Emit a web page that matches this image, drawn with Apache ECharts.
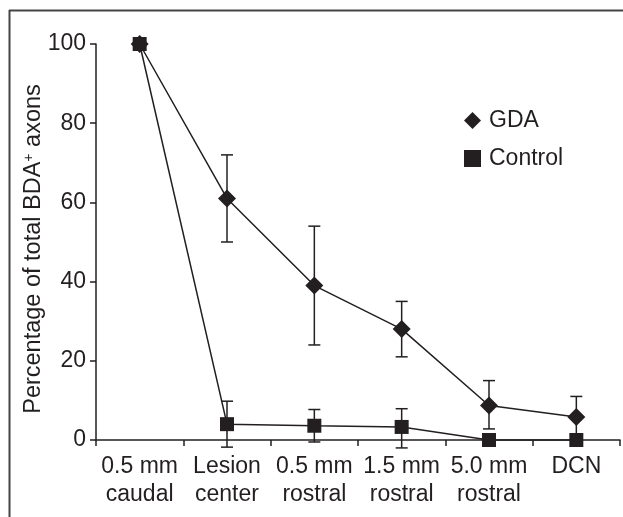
<!DOCTYPE html>
<html>
<head>
<meta charset="utf-8">
<script src="https://cdn.jsdelivr.net/npm/echarts@6/dist/echarts.min.js"></script>
<style>
html,body{margin:0;padding:0;background:#fff;}
#main{width:623px;height:517px;}
</style>
</head>
<body>
<div id="main"></div>
<script>
var categories=['0.5 mm\ncaudal','Lesion\ncenter','0.5 mm\nrostral','1.5 mm\nrostral','5.0 mm\nrostral','DCN'];
var gdaValues=[100,61,39,28,8.7,5.8];
var gdaLow=[null,50,24,21,2.8,0];
var gdaHigh=[null,72,54,35,15,11];
var ctrlValues=[100,4,3.6,3.3,0,0];
var ctrlLow=[null,-1.8,-0.5,-2,null,null];
var ctrlHigh=[null,9.8,7.7,7.9,null,null];
var yTicks=[0,20,40,60,80,100];

var ink='#231f20';
var font='"Liberation Sans", Arial, sans-serif';

var errData=function(low,high){
	var out=[];
	for(var i=0;i<low.length;i++){
		if(low[i]==null) continue;
		out.push([i,low[i],high[i]]);
	}
	return out;
};

var errRender=function(params,api){
	var x=api.value(0);
	var lo=api.coord([x,api.value(1)]);
	var hi=api.coord([x,api.value(2)]);
	var w=6;
	var st={stroke:ink,lineWidth:1.5};
	return {
		type:'group',
		children:[
			{type:'line',shape:{x1:lo[0],y1:lo[1],x2:hi[0],y2:hi[1]},style:st},
			{type:'line',shape:{x1:hi[0]-w,y1:hi[1],x2:hi[0]+w,y2:hi[1]},style:st},
			{type:'line',shape:{x1:lo[0]-w,y1:lo[1],x2:lo[0]+w,y2:lo[1]},style:st}
		]
	};
};

var chart=echarts.init(document.getElementById('main'));
var option={
	animation:false,
	backgroundColor:'#fff',
	textStyle:{fontFamily:font,color:ink},
	grid:{left:96,right:3,top:44,bottom:77,containLabel:false},
	legend:{
		orient:'vertical',
		left:459,
		top:104,
		itemWidth:17,
		itemHeight:17,
		itemGap:15,
		textStyle:{fontFamily:font,fontSize:23,color:ink,padding:[0,0,0,3]},
		data:[{name:'GDA',icon:'diamond'},{name:'Control',icon:'rect'}]
	},
	graphic:[
		{type:'line',shape:{x1:9,y1:10.5,x2:623,y2:10.5},style:{stroke:'#444',lineWidth:2}},
		{type:'line',shape:{x1:9.5,y1:10,x2:9.5,y2:517},style:{stroke:'#444',lineWidth:2}}
	],
	xAxis:{
		type:'category',
		data:categories,
		boundaryGap:true,
		axisLine:{lineStyle:{color:ink,width:1.5}},
		axisTick:{show:true,length:6,inside:false,alignWithLabel:false,lineStyle:{color:ink,width:1.5}},
		axisLabel:{fontFamily:font,fontSize:23,color:ink,margin:13,lineHeight:28,interval:0}
	},
	yAxis:{
		type:'value',
		min:0,
		max:100,
		interval:20,
		name:'Percentage of total BDA{sup|+} axons',
		nameLocation:'middle',
		nameGap:50,
		nameMoveOverlap:false,
		nameTextStyle:{fontFamily:font,fontSize:23.5,color:ink,padding:[0,14,0,0],
			rich:{sup:{fontSize:14,verticalAlign:'top',padding:[0,0,10,0]}}},
		axisLine:{show:true,lineStyle:{color:ink,width:1.5}},
		axisTick:{show:true,length:6,lineStyle:{color:ink,width:1.5}},
		splitLine:{show:false},
		axisLabel:{fontFamily:font,fontSize:23,color:ink,margin:10,
			formatter:function(v){return yTicks.indexOf(v)>=0?String(v):'';}}
	},
	series:[
		{
			name:'errGDA',
			type:'custom',
			renderItem:errRender,
			data:errData(gdaLow,gdaHigh),
			clip:false,
			z:1
		},
		{
			name:'errCtrl',
			type:'custom',
			renderItem:errRender,
			data:errData(ctrlLow,ctrlHigh),
			clip:false,
			z:1
		},
		{
			name:'GDA',
			type:'line',
			data:gdaValues,
			symbol:'diamond',
			symbolSize:18,
			itemStyle:{color:ink},
			lineStyle:{color:ink,width:1.5},
			z:3
		},
		{
			name:'Control',
			type:'line',
			data:ctrlValues,
			symbol:'rect',
			symbolSize:14,
			itemStyle:{color:ink},
			lineStyle:{color:ink,width:1.5},
			clip:false,
			z:3
		}
	]
};
chart.setOption(option);
</script>
</body>
</html>
